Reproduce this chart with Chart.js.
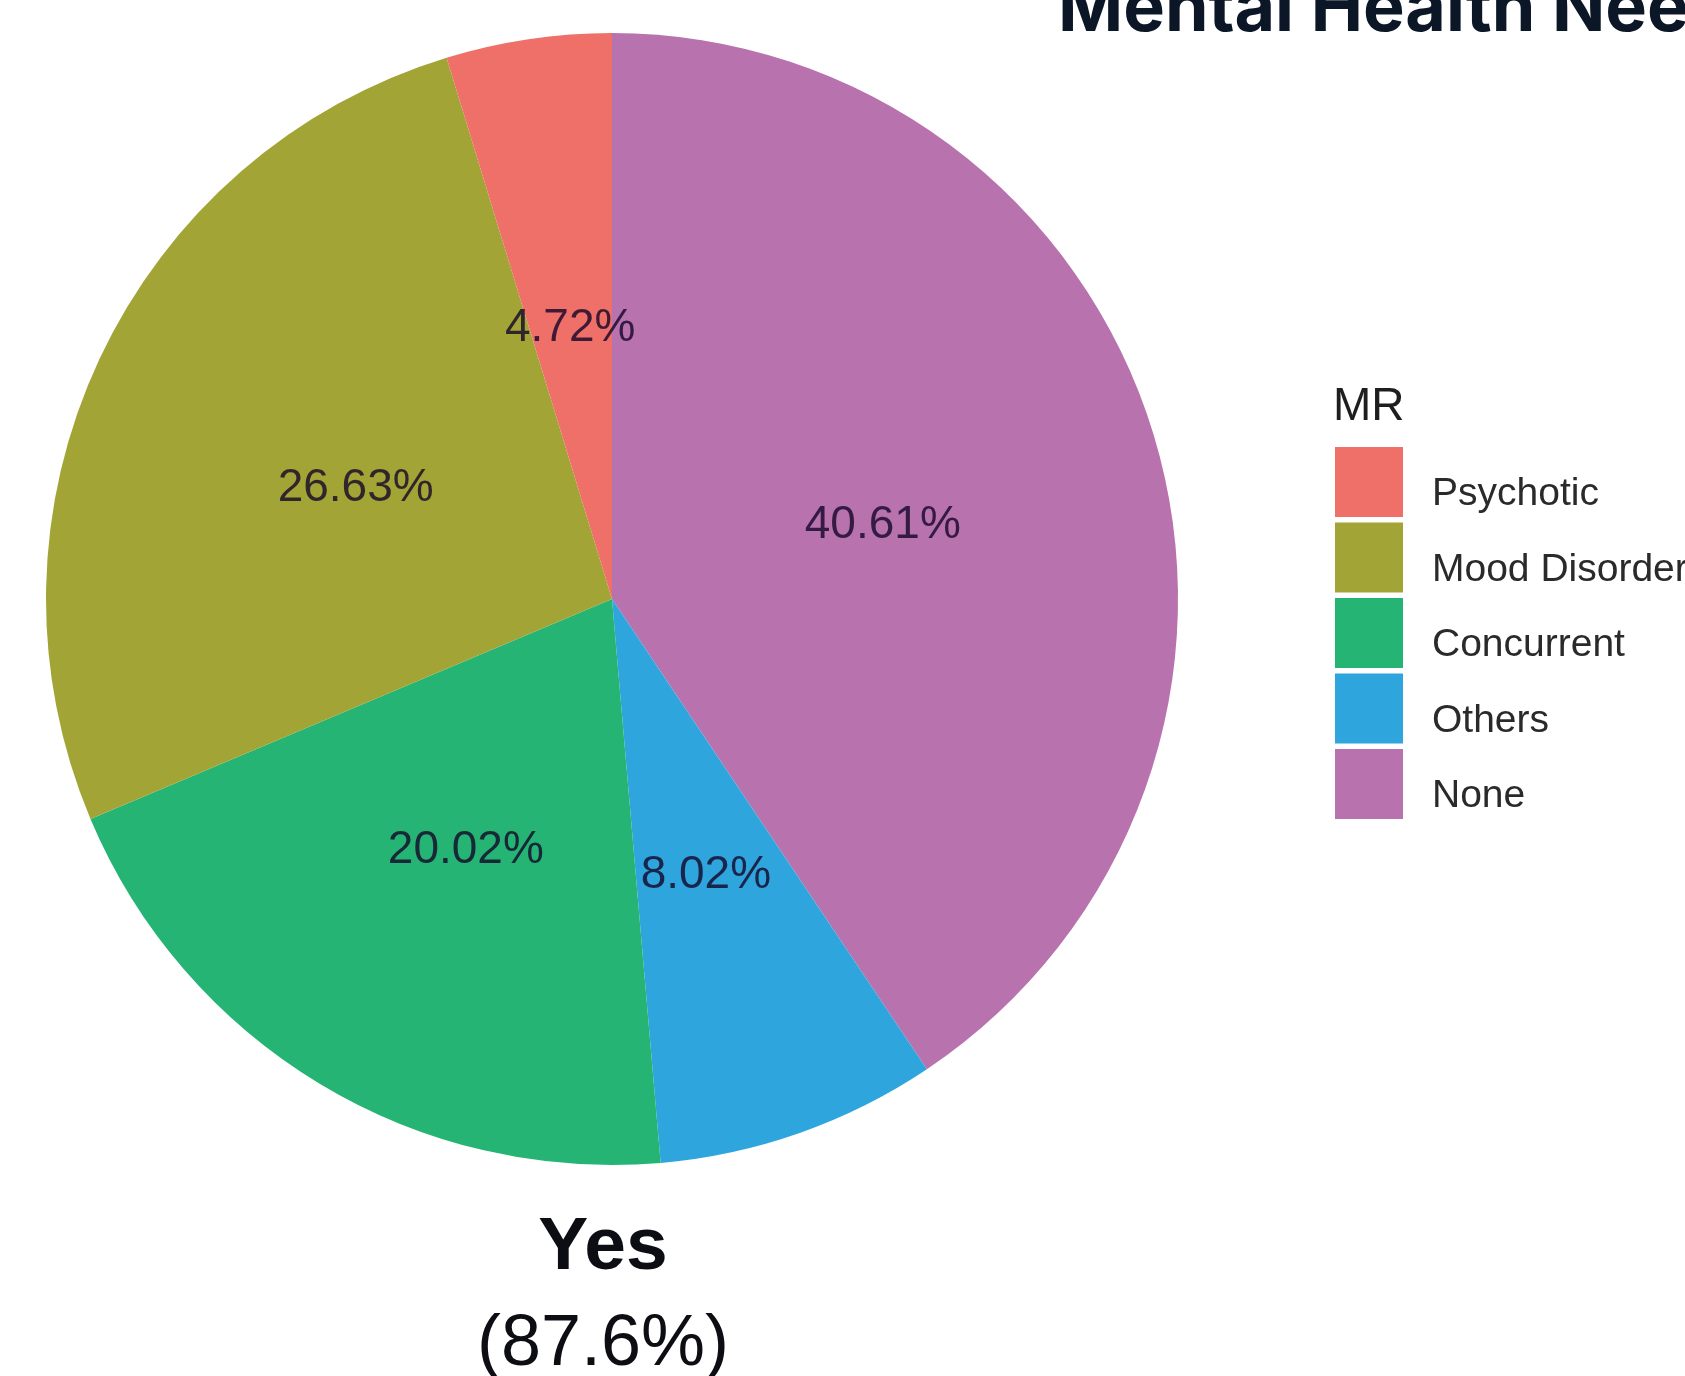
<!DOCTYPE html>
<html lang="en">
<head>
  <meta charset="utf-8">
  <title>Mental Health Needs</title>
  <style>
    body { margin: 0; background: #fff; overflow: hidden; }
    canvas { display: block; }
  </style>
</head>
<body>
  <canvas id="myChart" width="1685" height="1376"></canvas>
  <script src="https://cdn.jsdelivr.net/npm/chart.js@4.4.1/dist/chart.umd.min.js"></script>
  <script>
    // slices in clockwise order from 12 o'clock
    var categories = ['None', 'Others', 'Concurrent', 'Mood Disorder', 'Psychotic'];
    var shares = [40.61, 8.02, 20.02, 26.63, 4.72];
    var colors = ['#B872AE', '#2EA6DD', '#26B475', '#A2A536', '#EE7068'];
    var legendTitle = 'MR';
    var chartTitle = 'Mental Health Needs';
    var groupName = 'Yes';
    var groupShare = '(87.6%)';

    var sliceLabels = {
      id: 'sliceLabels',
      afterDatasetsDraw: function (chart) {
        var ctx = chart.ctx;
        var meta = chart.getDatasetMeta(0);
        ctx.save();
        ctx.font = '46px "Liberation Sans", Arial, sans-serif';
        ctx.textAlign = 'center';
        ctx.textBaseline = 'middle';
        ctx.fillStyle = 'rgba(20, 5, 40, 0.8)';
        meta.data.forEach(function (arc, i) {
          var p = arc.tooltipPosition();
          ctx.fillText(shares[i].toFixed(2) + '%', p.x, p.y + 9);
        });
        ctx.restore();
      }
    };

    var extras = {
      id: 'extras',
      afterDraw: function (chart) {
        var ctx = chart.ctx;
        ctx.save();
        // title, cut by the top edge like in the source
        ctx.fillStyle = '#0b1627';
        ctx.font = 'bold 70px Inter, "DejaVu Sans", sans-serif';
        ctx.textAlign = 'left';
        ctx.textBaseline = 'alphabetic';
        ctx.fillText(chartTitle, 1058, 31);

        // group caption under the pie
        ctx.fillStyle = '#0d0d14';
        ctx.textAlign = 'center';
        ctx.font = 'bold 75px "Liberation Sans", Arial, sans-serif';
        ctx.fillText(groupName, 603, 1269);
        ctx.font = '72px "Liberation Sans", Arial, sans-serif';
        ctx.fillText(groupShare, 603, 1365);

        // legend (ggplot order = reverse of slice order)
        ctx.textAlign = 'left';
        ctx.fillStyle = '#1e1e1e';
        ctx.font = '46px "Liberation Sans", Arial, sans-serif';
        ctx.fillText(legendTitle, 1333, 420);
        ctx.font = '39px "Liberation Sans", Arial, sans-serif';
        for (var k = 0; k < categories.length; k++) {
          var i = categories.length - 1 - k;
          var top = 447 + k * 75.5;
          ctx.fillStyle = colors[i];
          ctx.fillRect(1335, top, 68, 70);
          ctx.fillStyle = '#2a2a2a';
          ctx.fillText(categories[i], 1432, top + 58);
        }
        ctx.restore();
      }
    };

    var ctx = document.getElementById('myChart').getContext('2d');
    var chart = new Chart(ctx, {
      type: 'pie',
      data: {
        labels: categories,
        datasets: [{
          data: shares,
          backgroundColor: colors,
          borderWidth: 0
        }]
      },
      options: {
        responsive: false,
        animation: false,
        layout: { padding: { left: 46, right: 507, top: 33, bottom: 211 } },
        plugins: {
          legend: { display: false },
          tooltip: { enabled: false },
          title: { display: false }
        }
      },
      plugins: [sliceLabels, extras]
    });
  </script>
</body>
</html>
